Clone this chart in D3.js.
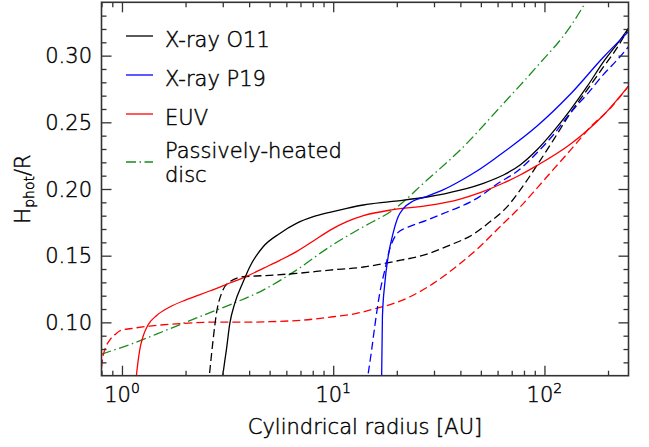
<!DOCTYPE html>
<html>
<head>
<meta charset="utf-8">
<script src="https://cdn.jsdelivr.net/npm/d3@7"></script>
<style>
  body { margin: 0; background: #fff; }
  svg text { font-family: "DejaVu Sans", sans-serif; font-weight: 300; fill: #000; stroke: #000; stroke-width: 0.45px; }
</style>
</head>
<body>
<svg id="chart" width="649" height="447"></svg>
<script>
// Photospheric aspect ratio H_phot/R against cylindrical radius (AU)

// X-ray O11 (solid / dashed)
const o11R      = [3.00, 3.06, 3.12, 3.24, 3.42, 3.74, 4.03, 4.66, 5.59, 6.70, 8.05, 9.63, 11.6, 13.9, 18.6, 27.8, 39.9, 51.4, 64.0, 76.7, 92.0, 110, 132.5, 159, 190.5, 228, 250];
const o11H      = [0.060, 0.070, 0.0792, 0.0992, 0.1142, 0.1300, 0.1417, 0.1567, 0.1667, 0.1742, 0.1792, 0.1825, 0.1855, 0.1880, 0.1905, 0.1940, 0.1992, 0.2043, 0.2105, 0.2180, 0.2292, 0.2430, 0.2592, 0.2767, 0.2955, 0.3117, 0.3205];
const o11dR     = [2.60, 2.65, 2.70, 2.80, 2.96, 3.24, 3.74, 4.66, 6.70, 9.63, 13.9, 19.2, 27.8, 35.8, 46.0, 55.3, 66.0, 77.0, 92.0, 110, 132.5, 159, 190.5, 219, 237, 250];
const o11dH     = [0.062, 0.075, 0.0867, 0.1067, 0.1217, 0.1305, 0.1342, 0.1350, 0.1367, 0.1392, 0.1415, 0.1455, 0.1512, 0.1580, 0.1660, 0.1755, 0.1860, 0.1995, 0.2175, 0.2365, 0.2567, 0.2742, 0.2917, 0.3050, 0.3140, 0.3205];

// X-ray P19 (solid / dashed)
const p19R      = [16.96, 17.1, 17.55, 18.2, 19.2, 20.3, 21.4, 23.9, 27.8, 33.3, 39.9, 47.9, 57.3, 64.0, 92.0, 132.5, 190.5, 250];
const p19H      = [0.0605, 0.1042, 0.1292, 0.1492, 0.1667, 0.1792, 0.1850, 0.1910, 0.1945, 0.1995, 0.2060, 0.2135, 0.2220, 0.2275, 0.2470, 0.2710, 0.2990, 0.3180];
const p19dR     = [14.65, 15.2, 15.8, 16.6, 17.55, 18.6, 19.4, 20.3, 21.5, 23.1, 27.8, 33.3, 39.9, 47.9, 59.4, 76.7, 92.0, 110, 132.5, 159, 190.5, 228, 250];
const p19dH     = [0.0617, 0.0792, 0.0992, 0.1217, 0.1392, 0.1560, 0.1630, 0.1675, 0.1700, 0.1720, 0.1767, 0.1817, 0.1867, 0.1930, 0.2035, 0.2150, 0.2270, 0.2405, 0.2570, 0.2710, 0.2860, 0.2992, 0.3067];

// EUV (solid / dashed)
const euvR      = [1.17, 1.19, 1.213, 1.257, 1.328, 1.455, 1.683, 2.02, 2.60, 3.24, 3.89, 4.66, 5.59, 6.70, 8.05, 9.63, 11.6, 13.9, 19.2, 27.8, 39.9, 50.0, 64.0, 76.7, 92.0, 132.5, 190.5, 250];
const euvH      = [0.060, 0.070, 0.0792, 0.0892, 0.0980, 0.1050, 0.1115, 0.1170, 0.1235, 0.1295, 0.1345, 0.1405, 0.1465, 0.1530, 0.1610, 0.1690, 0.1755, 0.1800, 0.1845, 0.1875, 0.1925, 0.1975, 0.2045, 0.2105, 0.2175, 0.2335, 0.2555, 0.2772];
const euvdR     = [0.80, 0.81, 0.828, 0.875, 0.941, 0.975, 1.02, 1.088, 1.353, 1.946, 2.80, 4.03, 5.0, 7.2, 10.0, 12.9, 16.0, 19.2, 23.1, 29.8, 39.9, 49.4, 61.6, 76.7, 92.0, 110, 132.5, 153, 165, 177, 190.5, 250];
const euvdH     = [0.066, 0.073, 0.0792, 0.0867, 0.0917, 0.0935, 0.0945, 0.0952, 0.0972, 0.0992, 0.1002, 0.1002, 0.1005, 0.1017, 0.1042, 0.1067, 0.1105, 0.1140, 0.1192, 0.1292, 0.1442, 0.1567, 0.1717, 0.1865, 0.2005, 0.2145, 0.2290, 0.2405, 0.2465, 0.2511, 0.2555, 0.2772];

// Passively-heated disc
const passR     = [0.80, 1.127, 1.623, 2.33, 3.36, 4.66, 6.70, 9.63, 13.9, 19.2, 27.8, 39.9, 64.0, 92.0, 132.5, 159];
const passH     = [0.0762, 0.0842, 0.0942, 0.1042, 0.1142, 0.1242, 0.1392, 0.1567, 0.1717, 0.1842, 0.2067, 0.2292, 0.2642, 0.2917, 0.3217, 0.3417];

// Axis ticks
const xMajor    = [1, 10, 100];
const xMajorExp = ["0", "1", "2"];
const xMinor    = [0.8, 0.9, 2, 3, 4, 5, 6, 7, 8, 9, 20, 30, 40, 50, 60, 70, 80, 90, 200];
const yMajor    = [0.10, 0.15, 0.20, 0.25, 0.30];
const yMinor    = [0.07, 0.08, 0.09, 0.11, 0.12, 0.13, 0.14, 0.16, 0.17, 0.18, 0.19, 0.21, 0.22, 0.23, 0.24, 0.26, 0.27, 0.28, 0.29, 0.31, 0.32, 0.33];

// Legend
const legendLabels = [["X-ray O11"], ["X-ray P19"], ["EUV"], ["Passively-heated", "disc"]];
const legendColors = ["#000000", "#0000ff", "#ff0000", "#1a8c1a"];

const DASH = "8,4";
const DASHDOT = "10,3.5,1.5,3.5";

const curves = [
  { r: passR, h: passH, color: "#1a8c1a", dash: DASHDOT },
  { r: euvdR, h: euvdH, color: "#ff0000", dash: DASH },
  { r: o11dR, h: o11dH, color: "#000000", dash: DASH },
  { r: p19dR, h: p19dH, color: "#0000ff", dash: DASH },
  { r: euvR,  h: euvH,  color: "#ff0000", dash: null },
  { r: o11R,  h: o11H,  color: "#000000", dash: null },
  { r: p19R,  h: p19H,  color: "#0000ff", dash: null }
];

const plotL = 101.5, plotR = 628.5, plotT = 2.3, plotB = 375.7;
const x = d3.scaleLog().domain([0.8, 250]).range([plotL, plotR]);
const y = d3.scaleLinear().domain([0.06, 0.34]).range([plotB, plotT]);

const svg = d3.select("#chart");
const axisColor = "#333";

svg.append("defs").append("clipPath").attr("id", "plot-clip")
  .append("rect").attr("x", plotL).attr("y", plotT)
  .attr("width", plotR - plotL).attr("height", plotB - plotT);

// curves
const line = d3.line().x(d => x(d[0])).y(d => y(d[1])).curve(d3.curveMonotoneX);
const gCurves = svg.append("g").attr("clip-path", "url(#plot-clip)");
curves.forEach(c => {
  gCurves.append("path")
    .datum(d3.zip(c.r, c.h))
    .attr("d", line)
    .attr("fill", "none")
    .attr("stroke", c.color)
    .attr("stroke-width", 1.3)
    .attr("stroke-dasharray", c.dash);
});

// inward ticks on all four sides
function tickAxis(gen, tx, ty, values, size) {
  const g = svg.append("g").attr("transform", `translate(${tx},${ty})`)
    .call(gen.tickValues(values).tickSize(-size).tickFormat(() => ""));
  g.select(".domain").remove();
  g.selectAll(".tick line").attr("stroke", axisColor).attr("stroke-width", 1.3);
}
tickAxis(d3.axisBottom(x), 0, plotB, xMajor, 10);
tickAxis(d3.axisBottom(x), 0, plotB, xMinor, 5);
tickAxis(d3.axisTop(x), 0, plotT, xMajor, 10);
tickAxis(d3.axisTop(x), 0, plotT, xMinor, 5);
tickAxis(d3.axisLeft(y), plotL, 0, yMajor, 10);
tickAxis(d3.axisLeft(y), plotL, 0, yMinor, 5);
tickAxis(d3.axisRight(y), plotR, 0, yMajor, 10);
tickAxis(d3.axisRight(y), plotR, 0, yMinor, 5);

// frame
svg.append("rect")
  .attr("x", plotL).attr("y", plotT)
  .attr("width", plotR - plotL).attr("height", plotB - plotT)
  .attr("fill", "none").attr("stroke", axisColor).attr("stroke-width", 1.6);

// x tick labels (powers of ten)
xMajor.forEach((v, i) => {
  const t = svg.append("text")
    .attr("x", x(v)).attr("y", 402)
    .attr("text-anchor", "middle")
    .attr("font-size", 21);
  t.append("tspan").text("10");
  t.append("tspan").attr("font-size", 14).attr("dy", -9).text(xMajorExp[i]);
});

// y tick labels
yMajor.forEach(v => {
  svg.append("text")
    .attr("x", 92).attr("y", y(v)).attr("dy", "0.36em")
    .attr("text-anchor", "end")
    .attr("font-size", 21)
    .text(d3.format(".2f")(v));
});

// axis titles
svg.append("text")
  .attr("x", (plotL + plotR) / 2).attr("y", 434)
  .attr("text-anchor", "middle")
  .attr("font-size", 21)
  .text("Cylindrical radius [AU]");

const yt = svg.append("text")
  .attr("transform", `translate(30,${(plotT + plotB) / 2}) rotate(-90)`)
  .attr("text-anchor", "middle")
  .attr("font-size", 21);
yt.append("tspan").text("H");
yt.append("tspan").attr("font-size", 14).attr("dy", 4).text("phot");
yt.append("tspan").attr("dy", -4).text("/R");

// legend: single-line entries sit 39px apart, wrapped entry straddles its sample line
const legend = svg.append("g");
let ly = 36;
legendLabels.forEach((lines, i) => {
  const lineY = lines.length > 1 ? ly + 9 : ly;
  legend.append("line")
    .attr("x1", 126).attr("x2", 153)
    .attr("y1", lineY).attr("y2", lineY)
    .attr("stroke", legendColors[i])
    .attr("stroke-width", 1.3)
    .attr("stroke-dasharray", i === 3 ? DASHDOT : null);
  const base = lines.length > 1 ? ly + 4.5 : ly + 10.5;
  lines.forEach((s, j) => {
    legend.append("text")
      .attr("x", 165).attr("y", base + j * 24.5)
      .attr("font-size", 21)
      .text(s);
  });
  ly += 39;
});
</script>
</body>
</html>
